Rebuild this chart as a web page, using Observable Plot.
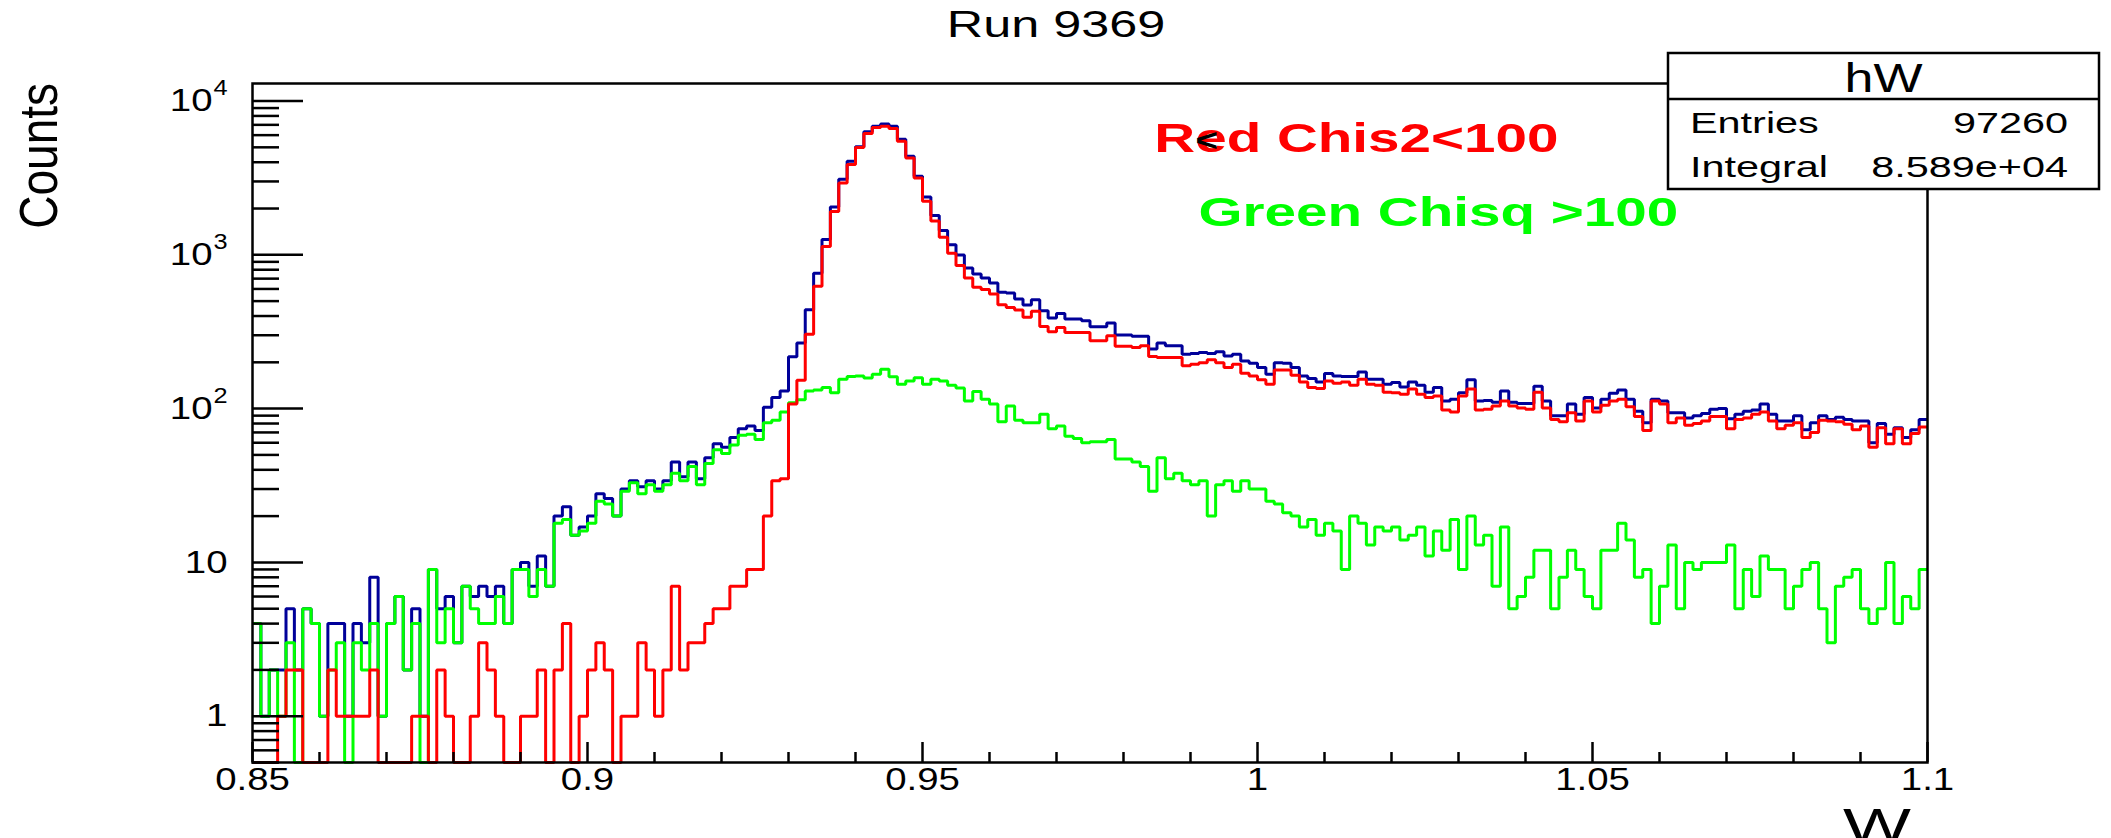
<!DOCTYPE html>
<html>
<head>
<meta charset="utf-8">
<script src="https://cdn.jsdelivr.net/npm/d3@7"></script>
<script src="https://cdn.jsdelivr.net/npm/@observablehq/plot@0.6"></script>
<style>
  html, body { margin: 0; padding: 0; background: #ffffff; }
  #wrap { position: relative; width: 2111px; height: 838px; overflow: hidden; background: #fff; }
  #wrap svg { position: absolute; left: 0; top: 0; }
  text { font-family: "Liberation Sans", Arial, Helvetica, sans-serif; }
</style>
</head>
<body>
<div id="wrap"></div>
<script>
// ---------------- data ----------------
const wMin = 0.85, wMax = 1.1, nBins = 200;

// all events (blue)
const countsAll = [
  4,1,2,2,5,2,5,4,1,4,4,1,4,3,8,1,4,6,2,5,1,9,5,6,3,7,6,7,6,7,4,9,10,7,11,7,
  20,23,15,17,20,28,26,20,30,34,31,34,30,34,45,36,45,35,48,59,56,65,74,77,72,102,118,130,
  217,267,440,759,1258,2045,3098,4060,5035,6308,6867,7100,6850,5651,4378,3240,2377,1804,1440,1161,
  999,822,751,707,656,570,565,516,472,511,433,388,
  416,382,382,373,341,341,360,301,301,295,295,244,267,256,256,226,228,232,228,234,
  220,226,204,197,185,167,199,197,185,163,157,149,169,163,162,162,173,155,155,144,
  148,138,149,142,128,137,112,115,127,154,112,113,110,130,
  110,108,108,140,112,90,90,107,92,118,101,115,126,132,115,96,81,115,112,94,
  94,87,90,93,99,100,86,92,96,98,107,92,83,83,90,73,81,90,85,88,
  85,83,83,60,80,68,75,65,73,85
];

// Chis2 < 100 (red)
const countsLowChi2 = [
  0,0,0,1,2,2,0,0,0,2,1,1,1,1,2,0,0,0,0,1,1,0,2,1,0,0,1,3,2,1,0,0,1,1,2,0,2,4,0,1,
  2,3,2,0,1,1,3,2,1,2,7,
  2,3,3,4,5,5,7,7,9,9,20,34,35,107,153,305,624,1133,1916,2933,
  3863,4985,6152,6733,6867,6632,5483,4269,3160,2226,1657,1303,1025,851,707,615,594,556,474,455,
  437,392,430,342,316,
  337,313,313,313,276,276,298,254,254,250,256,218,215,215,215,190,194,199,208,199,
  185,194,170,163,154,144,178,178,165,149,137,135,151,146,149,142,155,144,142,128,
  127,124,134,124,118,121,98,95,121,134,98,99,104,112,
  104,101,99,128,101,85,82,94,83,112,95,105,112,115,103,89,72,112,107,81,
  87,78,80,83,89,89,74,85,87,92,95,83,74,78,81,65,70,84,83,82,
  79,73,77,56,75,59,74,59,69,76
];

// Chisq > 100 (green)
const countsHighChi2 = [
  4,1,2,1,3,0,5,4,1,2,3,0,3,2,4,1,4,6,2,4,0,9,3,5,3,7,5,4,4,6,4,9,9,6,9,7,
  18,19,15,16,18,25,24,20,29,33,28,32,29,32,38,34,42,32,44,54,
  51,58,67,68,63,81,84,95,109,114,130,132,137,127,155,162,163,158,167,180,
  161,144,151,159,144,155,151,142,136,112,129,115,107,82,104,84,81,81,92,74,
  77,66,64,60,61,61,63,47,47,45,42,29,48,35,38,34,32,34,20,32,
  34,29,34,30,30,25,24,21,20,17,19,15,18,16,9,20,18,13,17,16,
  17,14,15,17,11,16,12,19,9,20,13,15,7,17,
  5,6,8,12,12,5,8,12,9,6,5,12,12,18,14,8,9,4,7,13,
  5,10,9,10,10,10,13,5,9,6,11,9,9,5,7,9,10,5,3,7,
  8,9,5,4,5,10,4,6,5,9
];

const xTickValues = [0.85, 0.9, 0.95, 1, 1.05, 1.1];
const xTickLabels = ["0.85", "0.9", "0.95", "1", "1.05", "1.1"];
const yDecadeValues = [1, 10, 100, 1000, 10000];
const yDecadeBase = ["1", "10", "10", "10", "10"];
const yDecadeExp = ["", "", "2", "3", "4"];

const titleText = "Run 9369";
const yTitle = "Counts";
const xTitle = "W";
const statTitle = "hW";
const statNames = ["Entries", "Integral"];
const statValues = ["97260", "8.589e+04"];
const noteRed = "Red Chis2<100";
const noteGreen = "Green Chisq >100";

// ---------------- helpers ----------------
const binW = (wMax - wMin) / nBins;
const yFloor = 0.5;  // bottom of the log axis: empty bins are drawn there
function steps(counts) {
  const pts = [];
  counts.forEach((c, i) => {
    const v = Math.max(c, yFloor);
    pts.push({W: wMin + i * binW, n: v});
    pts.push({W: wMin + (i + 1) * binW, n: v});
  });
  return pts;
}
const minorX = d3.range(0, 26).map(i => wMin + i * 0.01).filter(v => !xTickValues.some(t => Math.abs(t - v) < 1e-9));
const minorY = [];
[0.1, 1, 10, 100, 1000].forEach(d => { for (let k = 2; k <= 9; k++) { const v = k * d; if (v >= 0.5 && v <= 13000) minorY.push(v); } });

const W = 2111, H = 838;
const mL = 252, mR = 184, mT = 83, mB = 76;
const fw = W - mL - mR, fh = H - mT - mB;

const expIdx = [2, 3, 4], plainIdx = [0, 1];
const tickFont = 32, expFont = 22, noteFont = 41;

const chart = Plot.plot({
  width: W, height: H,
  marginLeft: mL, marginRight: mR, marginTop: mT, marginBottom: mB,
  x: {domain: [wMin, wMax], axis: null},
  y: {type: "log", domain: [yFloor, 13000], axis: null},
  style: {background: "transparent", overflow: "visible"},
  marks: [
    Plot.line(steps(countsAll), {x: "W", y: "n", stroke: "#000099", strokeWidth: 3, strokeLinejoin: "miter", strokeLinecap: "butt"}),
    Plot.line(steps(countsHighChi2), {x: "W", y: "n", stroke: "#00ff00", strokeWidth: 3, strokeLinejoin: "miter", strokeLinecap: "butt"}),
    Plot.line(steps(countsLowChi2), {x: "W", y: "n", stroke: "#ff0000", strokeWidth: 3, strokeLinejoin: "miter", strokeLinecap: "butt"}),
    // axis ticks (inside the frame, ROOT style)
    Plot.tickX(minorX, {x: d => d, insetTop: fh - 10, stroke: "#000", strokeWidth: 2.5}),
    Plot.tickX(xTickValues, {x: d => d, insetTop: fh - 20, stroke: "#000", strokeWidth: 2.5}),
    Plot.tickY(minorY, {y: d => d, insetRight: fw - 27, stroke: "#000", strokeWidth: 2.5}),
    Plot.tickY(yDecadeValues, {y: d => d, insetRight: fw - 51, stroke: "#000", strokeWidth: 2.5}),
    Plot.frame({stroke: "#000", strokeWidth: 2.5}),
    // tick labels
    Plot.text(xTickValues, {x: d => d, text: (d, i) => xTickLabels[i], frameAnchor: "bottom", dy: 5, lineAnchor: "top", fontSize: tickFont, fill: "#000"}),
    Plot.text(plainIdx, {y: i => yDecadeValues[i], text: i => yDecadeBase[i], frameAnchor: "left", dx: -25, textAnchor: "end", lineAnchor: "middle", fontSize: tickFont, fill: "#000"}),
    Plot.text(expIdx, {y: i => yDecadeValues[i], text: i => yDecadeBase[i], frameAnchor: "left", dx: -40, textAnchor: "end", lineAnchor: "middle", fontSize: tickFont, fill: "#000"}),
    Plot.text(expIdx, {y: i => yDecadeValues[i], text: i => yDecadeExp[i], frameAnchor: "left", dx: -39, dy: -13, textAnchor: "start", lineAnchor: "middle", fontSize: expFont, fill: "#000"}),
    // in-frame notes
    Plot.text([noteRed], {x: 0.9846, y: 4640, text: d => d, textAnchor: "start", lineAnchor: "bottom", fontSize: noteFont, fontWeight: "bold", fill: "#ff0000"}),
    Plot.text(["<"], {x: 0.9924, y: 5500, text: d => d, textAnchor: "middle", lineAnchor: "middle", fontSize: 32, fontWeight: "bold", fill: "#000"}),
    Plot.text([noteGreen], {x: 0.9912, y: 1530, text: d => d, textAnchor: "start", lineAnchor: "bottom", fontSize: noteFont, fontWeight: "bold", fill: "#00ff00"})
  ]
});

const wrap = document.getElementById("wrap");
wrap.appendChild(chart);

// widen the lettering like the reference picture (stretch depends on text size)
chart.querySelectorAll("text").forEach(t => {
  const fs = parseFloat(getComputedStyle(t).fontSize);
  const k = fs >= 40 ? 1.38 : fs >= 30 ? 1.2 : 1.15;
  const w = t.getComputedTextLength();
  if (w > 0) { t.setAttribute("textLength", (w * k).toFixed(1)); t.setAttribute("lengthAdjust", "spacingAndGlyphs"); }
});

// ---------------- overlay: title, axis titles, stats box ----------------
const ov = d3.select(wrap).append("svg").attr("width", W).attr("height", H)
  .style("font-family", '"Liberation Sans", Arial, Helvetica, sans-serif');

function label(txt, x, y, size, anchor, sx, rot) {
  const g = ov.append("g").attr("transform", `translate(${x},${y})` + (rot ? ` scale(${sx},1) rotate(${rot})` : ` scale(${sx},1)`));
  g.append("text").attr("text-anchor", anchor).attr("font-size", size).attr("fill", "#000").text(txt);
}
label(titleText, 1056, 37, 36, "middle", 1.4);
label(yTitle, 57, 83, 46, "end", 1.18, -90);
label(xTitle, 1911, 842, 48, "end", 1.5);

// stats box
const bx = 1668, by = 53, bw = 431, bh = 136, bt = 46;
ov.append("rect").attr("x", bx).attr("y", by).attr("width", bw).attr("height", bh)
  .attr("fill", "#fff").attr("stroke", "#000").attr("stroke-width", 2.5);
ov.append("line").attr("x1", bx).attr("x2", bx + bw).attr("y1", by + bt).attr("y2", by + bt)
  .attr("stroke", "#000").attr("stroke-width", 2.5);
label(statTitle, bx + bw / 2, 92, 40, "middle", 1.3);
statNames.forEach((s, i) => {
  label(s, 1690, 133 + i * 44, 30, "start", 1.38);
  label(statValues[i], 2068, 133 + i * 44, 30, "end", 1.38);
});
</script>
</body>
</html>
